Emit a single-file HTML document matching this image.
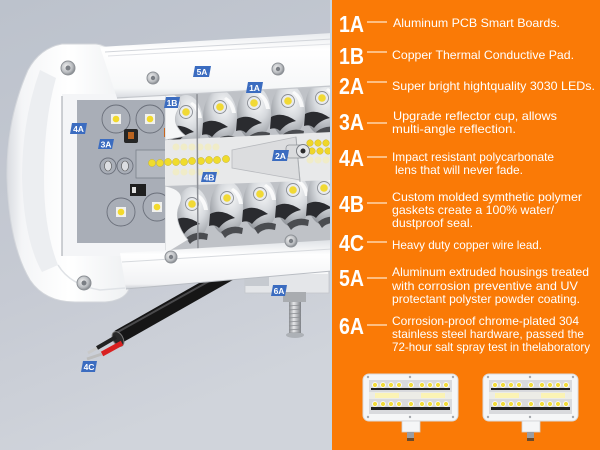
<!DOCTYPE html>
<html><head><meta charset="utf-8"><style>
html,body{margin:0;padding:0;width:600px;height:450px;overflow:hidden;background:#c4c9d1}
svg{display:block}
</style></head><body>
<svg width="600" height="450" viewBox="0 0 600 450" xmlns="http://www.w3.org/2000/svg" font-family="'Liberation Sans', sans-serif">
<defs>
<linearGradient id="bg" x1="0" y1="0" x2="0.3" y2="1">
<stop offset="0" stop-color="#bcc2cc"/><stop offset="0.6" stop-color="#c6cad3"/><stop offset="1" stop-color="#d0d4db"/>
</linearGradient>
<linearGradient id="capg" x1="0" y1="0" x2="1" y2="0">
<stop offset="0" stop-color="#d9dce1"/><stop offset="0.12" stop-color="#f4f5f7"/><stop offset="0.5" stop-color="#ffffff"/><stop offset="1" stop-color="#eef0f2"/>
</linearGradient>
<linearGradient id="railg" x1="0" y1="0" x2="0" y2="1">
<stop offset="0" stop-color="#e9ebee"/><stop offset="0.25" stop-color="#ffffff"/><stop offset="0.85" stop-color="#f6f7f8"/><stop offset="1" stop-color="#d8dbe0"/>
</linearGradient>
<linearGradient id="brailg" x1="0" y1="0" x2="0" y2="1">
<stop offset="0" stop-color="#dfe2e6"/><stop offset="0.3" stop-color="#ffffff"/><stop offset="0.9" stop-color="#f1f2f4"/><stop offset="1" stop-color="#c9ccd2"/>
</linearGradient>
<radialGradient id="cupg" cx="0.6" cy="0.3" r="0.75">
<stop offset="0" stop-color="#f7f8f9"/><stop offset="0.45" stop-color="#d6d9dd"/><stop offset="1" stop-color="#8e9298"/>
</radialGradient>
<radialGradient id="screwg" cx="0.4" cy="0.4" r="0.7">
<stop offset="0" stop-color="#f3f3f3"/><stop offset="0.6" stop-color="#b9bcc0"/><stop offset="1" stop-color="#6f7378"/>
</radialGradient>
<linearGradient id="boltg" x1="0" y1="0" x2="1" y2="0">
<stop offset="0" stop-color="#8b8e92"/><stop offset="0.4" stop-color="#e6e7e9"/><stop offset="1" stop-color="#7d8085"/>
</linearGradient>
<clipPath id="lensclip"><polygon points="165,92 332,82 332,246 165,254"/></clipPath>
<g id="cup">
<ellipse cx="0" cy="10" rx="17" ry="27" fill="url(#cupg)"/>
<path d="M-17,16 Q-6,10 8,20 Q-2,22 -8,30 Q-12,26 -18,28 Z" fill="#2a2b2f"/>
<path d="M-6,34 Q4,26 16,30 L15,36 Q4,33 -2,40 Z" fill="#4a4c50"/>
<path d="M6,-10 Q14,-6 16,6 L12,6 Q10,-4 4,-8 Z" fill="#ffffff" opacity="0.8"/>
</g>
</defs>

<!-- background -->
<rect x="0" y="0" width="332" height="450" fill="url(#bg)"/>

<!-- cable (behind) -->
<line x1="245" y1="265" x2="118" y2="337" stroke="#161616" stroke-width="14"/>
<line x1="240" y1="264" x2="116" y2="333" stroke="#4a4a4c" stroke-width="2"/>
<ellipse cx="118" cy="339" rx="5" ry="8" transform="rotate(-30 118 339)" fill="#2a2a2a" stroke="#777" stroke-width="1"/>
<line x1="116" y1="337" x2="97" y2="348" stroke="#222" stroke-width="4"/>
<line x1="97" y1="348" x2="88" y2="353" stroke="#c9c9c9" stroke-width="3"/>
<line x1="122" y1="343" x2="102" y2="354" stroke="#d92020" stroke-width="5"/>
<line x1="102" y1="354" x2="87" y2="359" stroke="#bdbdbd" stroke-width="3"/>

<!-- bracket and bolt -->
<rect x="245" y="262" width="84" height="31" fill="#e4e6e9" stroke="#c3c6cb" stroke-width="0.8"/>
<rect x="245" y="270" width="24" height="16" fill="#c6cad0"/>
<rect x="270" y="266" width="58" height="8" fill="#f7f8f9"/>
<rect x="283" y="292" width="23" height="10" fill="#a9acb0"/>
<rect x="289" y="302" width="12" height="31" fill="url(#boltg)"/>
<g stroke="#8a8d92" stroke-width="0.8">
<line x1="289" y1="306" x2="301" y2="305"/><line x1="289" y1="310" x2="301" y2="309"/><line x1="289" y1="314" x2="301" y2="313"/><line x1="289" y1="318" x2="301" y2="317"/><line x1="289" y1="322" x2="301" y2="321"/><line x1="289" y1="326" x2="301" y2="325"/><line x1="289" y1="330" x2="301" y2="329"/>
</g>
<ellipse cx="295" cy="335" rx="9" ry="3" fill="#8c8f94" opacity="0.5"/>

<!-- end cap -->
<path d="M117,95 L117,66 Q114,46 96,44 L62,44 Q40,48 28,70 Q6,120 7,178 Q9,245 30,280 Q45,302 75,302 L105,302 Q128,300 130,285 L130,255 L117,250 Z" fill="url(#capg)" stroke="#d3d6db" stroke-width="1"/>
<path d="M40,70 Q22,120 22,178 Q24,240 42,272 L58,265 Q44,230 44,178 Q44,120 56,78 Z" fill="#eceef1"/>
<path d="M58,265 Q70,285 100,290 L125,288" fill="none" stroke="#dfe2e6" stroke-width="1.5"/>

<!-- frame -->
<rect x="62" y="94" width="270" height="162" fill="#f4f5f7"/>
<line x1="62" y1="96" x2="62" y2="256" stroke="#aeb2b8" stroke-width="1.2"/>

<!-- PCB -->
<rect x="77" y="100" width="93" height="143" fill="#a9aeb7"/>
<g fill="none" stroke="#6b707b" stroke-width="0.9">
<circle cx="116" cy="119" r="14"/><circle cx="150" cy="119" r="14"/>
<circle cx="121" cy="212" r="14"/><circle cx="157" cy="207" r="14"/>
<circle cx="108" cy="166" r="8"/><circle cx="125" cy="166" r="8"/>
</g>
<g>
<rect x="111" y="114" width="10" height="10" fill="#f1f1ee"/><circle cx="116" cy="119" r="3.3" fill="#f2d92c"/>
<rect x="145" y="114" width="10" height="10" fill="#f1f1ee"/><circle cx="150" cy="119" r="3.3" fill="#f2d92c"/>
<rect x="116" y="207" width="10" height="10" fill="#f1f1ee"/><circle cx="121" cy="212" r="3.3" fill="#f2d92c"/>
<rect x="152" y="202" width="10" height="10" fill="#f1f1ee"/><circle cx="157" cy="207" r="3.3" fill="#f2d92c"/>
<ellipse cx="108" cy="166" rx="3.5" ry="5" fill="#dcdee2" stroke="#555" stroke-width="0.6"/>
<ellipse cx="125" cy="166" rx="3.5" ry="5" fill="#dcdee2" stroke="#555" stroke-width="0.6"/>
<rect x="124" y="129" width="14" height="14" rx="2" fill="#262626"/><rect x="128" y="132" width="6" height="7" fill="#b9631f"/>
<rect x="130" y="184" width="16" height="12" fill="#1f1f1f"/><rect x="132" y="187" width="4" height="6" fill="#e0e0e0"/>
<rect x="164" y="128" width="6" height="9" fill="#c8651e"/>
<rect x="170" y="185" width="5" height="8" fill="#d46f1f"/>
</g>
<rect x="136" y="150" width="64" height="28" fill="#b3b8c0" stroke="#7b808a" stroke-width="0.8"/>

<!-- lens area -->
<g clip-path="url(#lensclip)">
<rect x="165" y="80" width="170" height="180" fill="#bfc2c7"/>
<use href="#cup" x="186" y="112"/>
<use href="#cup" x="220" y="107"/>
<use href="#cup" x="254" y="103"/>
<use href="#cup" x="288" y="101"/>
<use href="#cup" x="322" y="98"/>
<use href="#cup" x="192" y="204"/>
<use href="#cup" x="227" y="198"/>
<use href="#cup" x="260" y="194"/>
<use href="#cup" x="293" y="190"/>
<use href="#cup" x="324" y="188"/>
<!-- middle band -->
<polygon points="165,140 332,132 332,180 165,186" fill="#e8e9ea"/>
<polygon points="232,150 296,137 300,180 232,168" fill="#dcdddf" stroke="#b8babe" stroke-width="0.8"/>
<line x1="296" y1="137" x2="300" y2="182" stroke="#a9acb0" stroke-width="1"/>
<g fill="#f0ecc8">
<circle cx="176" cy="147" r="3.5"/><circle cx="184" cy="147" r="3.5"/><circle cx="192" cy="147" r="3.5"/><circle cx="200" cy="147" r="3.5"/><circle cx="208" cy="147" r="3.5"/><circle cx="216" cy="147" r="3.5"/>
<circle cx="176" cy="172" r="3.5"/><circle cx="184" cy="172" r="3.5"/><circle cx="192" cy="172" r="3.5"/><circle cx="200" cy="172" r="3.5"/><circle cx="208" cy="172" r="3.5"/><circle cx="216" cy="172" r="3.5"/>
<circle cx="310" cy="160" r="3.5"/><circle cx="318" cy="160" r="3.5"/><circle cx="326" cy="160" r="3.5"/>
</g>
<g fill="#efd62a" stroke="#c9b63a" stroke-width="0.5">
<circle cx="310" cy="143" r="3.3"/><circle cx="318" cy="143" r="3.3"/><circle cx="326" cy="143" r="3.3"/>
<circle cx="312" cy="151" r="3.3"/><circle cx="320" cy="151" r="3.3"/><circle cx="328" cy="151" r="3.3"/>
</g>
<!-- 2A stud -->
<rect x="286" y="145" width="20" height="13" rx="3" fill="#dadbdd" stroke="#8f9297" stroke-width="0.8"/>
<circle cx="303" cy="151" r="6.5" fill="#e5e6e8" stroke="#7c7f84" stroke-width="1"/>
<circle cx="303" cy="151" r="2.5" fill="#2a2a2a"/>
<!-- gasket waves -->
<path d="M165,92 Q186,96 178,110 Q170,124 186,136 L165,140 Z" fill="#f5f6f7" stroke="#c0c3c7" stroke-width="0.8"/>
<path d="M165,186 Q186,190 180,204 Q172,220 188,240 L165,254 Z" fill="#f5f6f7" stroke="#c0c3c7" stroke-width="0.8"/>
<!-- LEDs -->
<g fill="#e9ebee" stroke="#8a8e95" stroke-width="0.9">
<circle cx="186" cy="112" r="6.5"/><circle cx="220" cy="107" r="6.5"/><circle cx="254" cy="103" r="6.5"/><circle cx="288" cy="101" r="6.5"/><circle cx="322" cy="98" r="6.5"/>
<circle cx="192" cy="204" r="6.5"/><circle cx="227" cy="198" r="6.5"/><circle cx="260" cy="194" r="6.5"/><circle cx="293" cy="190" r="6.5"/><circle cx="324" cy="188" r="6.5"/>
</g>
<g fill="#f1d935">
<circle cx="186" cy="112" r="3.8"/><circle cx="220" cy="107" r="3.8"/><circle cx="254" cy="103" r="3.8"/><circle cx="288" cy="101" r="3.8"/><circle cx="322" cy="98" r="3.8"/>
<circle cx="192" cy="204" r="3.8"/><circle cx="227" cy="198" r="3.8"/><circle cx="260" cy="194" r="3.8"/><circle cx="293" cy="190" r="3.8"/><circle cx="324" cy="188" r="3.8"/>
</g>
</g>
<!-- LED strip dots -->
<g fill="#f0dc2c" stroke="#c4b23a" stroke-width="0.5">
<circle cx="152" cy="163" r="3.6"/><circle cx="160" cy="163" r="3.6"/><circle cx="168" cy="162" r="3.6"/><circle cx="176" cy="162" r="3.6"/><circle cx="184" cy="162" r="3.6"/><circle cx="192" cy="161" r="3.6"/><circle cx="201" cy="161" r="3.6"/><circle cx="209" cy="160" r="3.6"/><circle cx="217" cy="160" r="3.6"/><circle cx="226" cy="159" r="3.6"/>
</g>
<line x1="197" y1="88" x2="198" y2="252" stroke="#8c8f95" stroke-width="1.5"/>

<!-- top rail -->
<polygon points="100,47 332,33 332,86 117,98" fill="url(#railg)"/>
<line x1="105" y1="52" x2="332" y2="39" stroke="#d2d5da" stroke-width="1"/>
<line x1="108" y1="56" x2="332" y2="44" stroke="#e0e2e6" stroke-width="1"/>
<line x1="117" y1="98" x2="332" y2="86" stroke="#c4c7cc" stroke-width="1.2"/>
<!-- bottom rail -->
<polygon points="120,253 332,240 332,271 126,289" fill="url(#brailg)"/>
<line x1="122" y1="262" x2="332" y2="249" stroke="#d7dade" stroke-width="1"/>
<line x1="126" y1="289" x2="332" y2="271" stroke="#b9bdc3" stroke-width="1"/>

<!-- screws -->
<g>
<circle cx="68" cy="68" r="7" fill="url(#screwg)" stroke="#8d9196" stroke-width="1"/><circle cx="68" cy="68" r="2.5" fill="#7a7e84"/>
<circle cx="153" cy="78" r="6" fill="url(#screwg)" stroke="#8d9196" stroke-width="1"/><circle cx="153" cy="78" r="2.2" fill="#7a7e84"/>
<circle cx="278" cy="69" r="6" fill="url(#screwg)" stroke="#8d9196" stroke-width="1"/><circle cx="278" cy="69" r="2.2" fill="#7a7e84"/>
<circle cx="171" cy="257" r="6" fill="url(#screwg)" stroke="#8d9196" stroke-width="1"/><circle cx="171" cy="257" r="2.2" fill="#7a7e84"/>
<circle cx="291" cy="241" r="6" fill="url(#screwg)" stroke="#8d9196" stroke-width="1"/><circle cx="291" cy="241" r="2.2" fill="#7a7e84"/>
<circle cx="84" cy="283" r="7" fill="url(#screwg)" stroke="#8d9196" stroke-width="1"/><circle cx="84" cy="283" r="2.5" fill="#7a7e84"/>
</g>

<!-- blue tags -->
<g font-weight="bold" font-size="8.5" fill="#fff" text-anchor="middle">
<polygon points="195,66 211,66 209,77 193,77" fill="#3b6cc0"/><text x="202" y="75" fill="#fff">5A</text>
<polygon points="248,82 263,82 261,93 246,93" fill="#3b6cc0"/><text x="254.5" y="91" fill="#fff">1A</text>
<polygon points="166,97 180,97 178,108 164,108" fill="#3b6cc0"/><text x="172" y="106" fill="#fff">1B</text>
<polygon points="72,123 87,123 85,134 70,134" fill="#3b6cc0"/><text x="78.5" y="132" fill="#fff">4A</text>
<polygon points="100,139 114,139 112,149 98,149" fill="#3b6cc0"/><text x="106" y="147.5" fill="#fff">3A</text>
<polygon points="274,150 289,150 287,161 272,161" fill="#3b6cc0"/><text x="280.5" y="159" fill="#fff">2A</text>
<polygon points="203,172 217,172 215,182 201,182" fill="#3b6cc0"/><text x="209" y="180.5" fill="#fff">4B</text>
<polygon points="273,285 287,285 285,296 271,296" fill="#3b6cc0"/><text x="279" y="294" fill="#fff">6A</text>
<polygon points="83,361 97,361 95,372 81,372" fill="#3b6cc0"/><text x="89" y="370" fill="#fff">4C</text>
</g>

<!-- orange panel -->
<rect x="330" y="0" width="2" height="450" fill="#c9d6e3"/>
<rect x="332" y="0" width="268" height="450" fill="#fa7a06"/>

<g fill="#fff" font-weight="bold" font-size="23">
<text x="339" y="32" textLength="25" lengthAdjust="spacingAndGlyphs">1A</text>
<text x="339" y="64" textLength="25" lengthAdjust="spacingAndGlyphs">1B</text>
<text x="339" y="94" textLength="25" lengthAdjust="spacingAndGlyphs">2A</text>
<text x="339" y="130" textLength="25" lengthAdjust="spacingAndGlyphs">3A</text>
<text x="339" y="166" textLength="25" lengthAdjust="spacingAndGlyphs">4A</text>
<text x="339" y="212" textLength="25" lengthAdjust="spacingAndGlyphs">4B</text>
<text x="339" y="251" textLength="25" lengthAdjust="spacingAndGlyphs">4C</text>
<text x="339" y="286" textLength="25" lengthAdjust="spacingAndGlyphs">5A</text>
<text x="339" y="334" textLength="25" lengthAdjust="spacingAndGlyphs">6A</text>
</g>
<g stroke="#ffe6cc" stroke-width="1.2">
<line x1="367" y1="22" x2="387" y2="22"/><line x1="367" y1="52" x2="387" y2="52"/><line x1="367" y1="82" x2="387" y2="82"/>
<line x1="367" y1="123" x2="387" y2="123"/><line x1="367" y1="157" x2="387" y2="157"/><line x1="367" y1="203" x2="387" y2="203"/>
<line x1="367" y1="242" x2="387" y2="242"/><line x1="367" y1="278" x2="387" y2="278"/><line x1="367" y1="325" x2="387" y2="325"/>
</g>
<g fill="#fff" font-size="12">
<text x="393" y="27" textLength="167" lengthAdjust="spacingAndGlyphs">Aluminum PCB Smart Boards.</text>
<text x="392" y="59" textLength="182" lengthAdjust="spacingAndGlyphs">Copper Thermal Conductive Pad.</text>
<text x="392" y="90" textLength="203" lengthAdjust="spacingAndGlyphs">Super bright hightquality 3030 LEDs.</text>
<text x="393" y="120" textLength="164" lengthAdjust="spacingAndGlyphs">Upgrade reflector cup, allows</text>
<text x="392" y="133" textLength="124" lengthAdjust="spacingAndGlyphs">multi-angle reflection.</text>
<text x="392" y="161" textLength="162" lengthAdjust="spacingAndGlyphs">Impact resistant polycarbonate</text>
<text x="395" y="174" textLength="128" lengthAdjust="spacingAndGlyphs">lens that will never fade.</text>
<text x="392" y="201" textLength="190" lengthAdjust="spacingAndGlyphs">Custom molded symthetic polymer</text>
<text x="392" y="214" textLength="162" lengthAdjust="spacingAndGlyphs">gaskets create a 100% water/</text>
<text x="392" y="227" textLength="81" lengthAdjust="spacingAndGlyphs">dustproof seal.</text>
<text x="392" y="249" textLength="150" lengthAdjust="spacingAndGlyphs">Heavy duty copper wire lead.</text>
<text x="392" y="276" textLength="197" lengthAdjust="spacingAndGlyphs">Aluminum extruded housings treated</text>
<text x="392" y="290" textLength="186" lengthAdjust="spacingAndGlyphs">with corrosion preventive and UV</text>
<text x="392" y="303" textLength="188" lengthAdjust="spacingAndGlyphs">protectant polyster powder coating.</text>
<text x="392" y="325" textLength="187" lengthAdjust="spacingAndGlyphs">Corrosion-proof chrome-plated 304</text>
<text x="392" y="338" textLength="192" lengthAdjust="spacingAndGlyphs">stainless steel hardware, passed the</text>
<text x="392" y="351" textLength="198" lengthAdjust="spacingAndGlyphs">72-hour salt spray test in thelaboratory</text>
</g>

<!-- thumbnails -->
<g id="lamp1" transform="translate(363,374)">
<rect x="0" y="0" width="95" height="47" rx="6" fill="#f5f6f7" stroke="#d9dadc" stroke-width="1"/>
<rect x="6" y="6" width="83" height="34" fill="#d9dadd"/>
<rect x="6" y="18" width="83" height="7" fill="#ecece6"/>
<rect x="12" y="19" width="24" height="5" fill="#fbf3b5"/><rect x="58" y="19" width="24" height="5" fill="#fbf3b5"/>
<g fill="#222"><rect x="8" y="14" width="79" height="2"/><rect x="8" y="33" width="79" height="3"/></g>
<g fill="#f2dc3a" stroke="#fff" stroke-width="0.8">
<circle cx="12" cy="11" r="2.5"/><circle cx="20" cy="11" r="2.5"/><circle cx="28" cy="11" r="2.5"/><circle cx="36" cy="11" r="2.5"/><circle cx="48" cy="11" r="2.5"/><circle cx="59" cy="11" r="2.5"/><circle cx="67" cy="11" r="2.5"/><circle cx="75" cy="11" r="2.5"/><circle cx="83" cy="11" r="2.5"/>
<circle cx="12" cy="30" r="2.5"/><circle cx="20" cy="30" r="2.5"/><circle cx="28" cy="30" r="2.5"/><circle cx="36" cy="30" r="2.5"/><circle cx="48" cy="30" r="2.5"/><circle cx="59" cy="30" r="2.5"/><circle cx="67" cy="30" r="2.5"/><circle cx="75" cy="30" r="2.5"/><circle cx="83" cy="30" r="2.5"/>
</g>
<g fill="#a5a8ad"><circle cx="5" cy="3" r="1.2"/><circle cx="47" cy="3" r="1.2"/><circle cx="90" cy="3" r="1.2"/><circle cx="5" cy="43" r="1.2"/><circle cx="47" cy="43" r="1.2"/><circle cx="90" cy="43" r="1.2"/></g>
<rect x="39" y="47" width="18" height="11" fill="#f5f6f7" stroke="#d0d2d5" stroke-width="0.8"/>
<rect x="44" y="58" width="7" height="8" fill="#9a9da2"/>
<rect x="44" y="64" width="7" height="3" fill="#6b4a2a"/>
</g>
<use href="#lamp1" x="120" y="0"/>
</svg>
</body></html>
